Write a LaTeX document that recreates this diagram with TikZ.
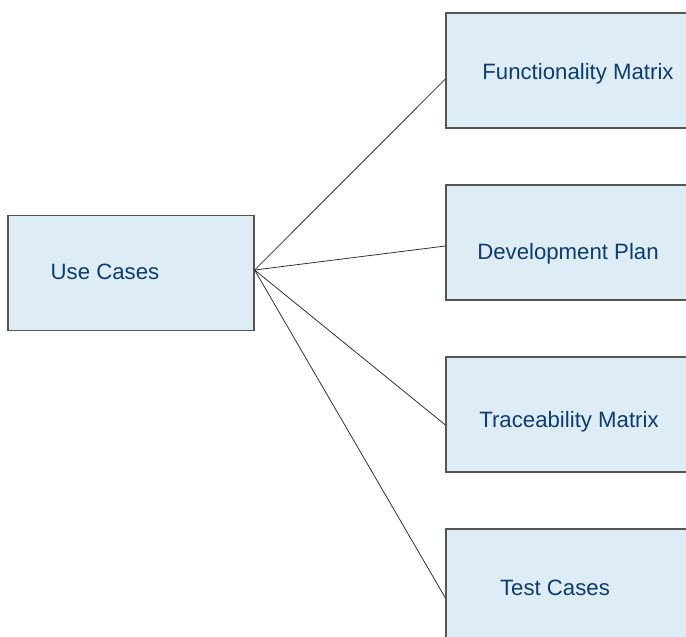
\documentclass[tikz,border=0pt]{standalone}
\usepackage{fontspec}
\setmainfont{Liberation Sans}
\definecolor{boxfill}{HTML}{DDECF5}
\definecolor{boxline}{HTML}{555555}
\definecolor{txt}{HTML}{0E3C6E}
\definecolor{wire}{HTML}{333333}
\begin{document}
\begin{tikzpicture}[x=1pt,y=-1pt,
  box/.style={draw=boxline,line width=1.2pt,fill=boxfill,rectangle,minimum width=246pt,minimum height=115pt,inner sep=0pt},
  lbl/.style={text=txt,font=\fontsize{22.2}{25}\selectfont,inner sep=0pt},
  wireline/.style={draw=wire,line width=0.8pt}]
\useasboundingbox (0,0) rectangle (686,637);
\clip (0,0) rectangle (686,637);
\node[box] (uc) at (131,273) {};
\node[box] (fm) at (569,70.5) {};
\node[box] (dp) at (569,242.5) {};
\node[box] (tm) at (569,414.5) {};
\node[box] (tc) at (569,586.5) {};
\node[lbl] (uct) at (105,271.5) {Use Cases};
\node[lbl] (fmt) at (578,73.5) {Functionality Matrix};
\node[lbl] (dpt) at (568,253.5) {Development Plan};
\node[lbl] (tmt) at (569,421.5) {Traceability Matrix};
\node[lbl] (tct) at (555,587.5) {Test Cases};
\coordinate (hub) at ([yshift=3pt]uc.east);
\draw[wireline] (hub) -- ([yshift=-8.5pt]fm.west);
\draw[wireline] (hub) -- ([yshift=-3.5pt]dp.west);
\draw[wireline] (hub) -- ([yshift=-10.5pt]tm.west);
\draw[wireline] (hub) -- ([yshift=-11.5pt]tc.west);
\end{tikzpicture}
\end{document}
